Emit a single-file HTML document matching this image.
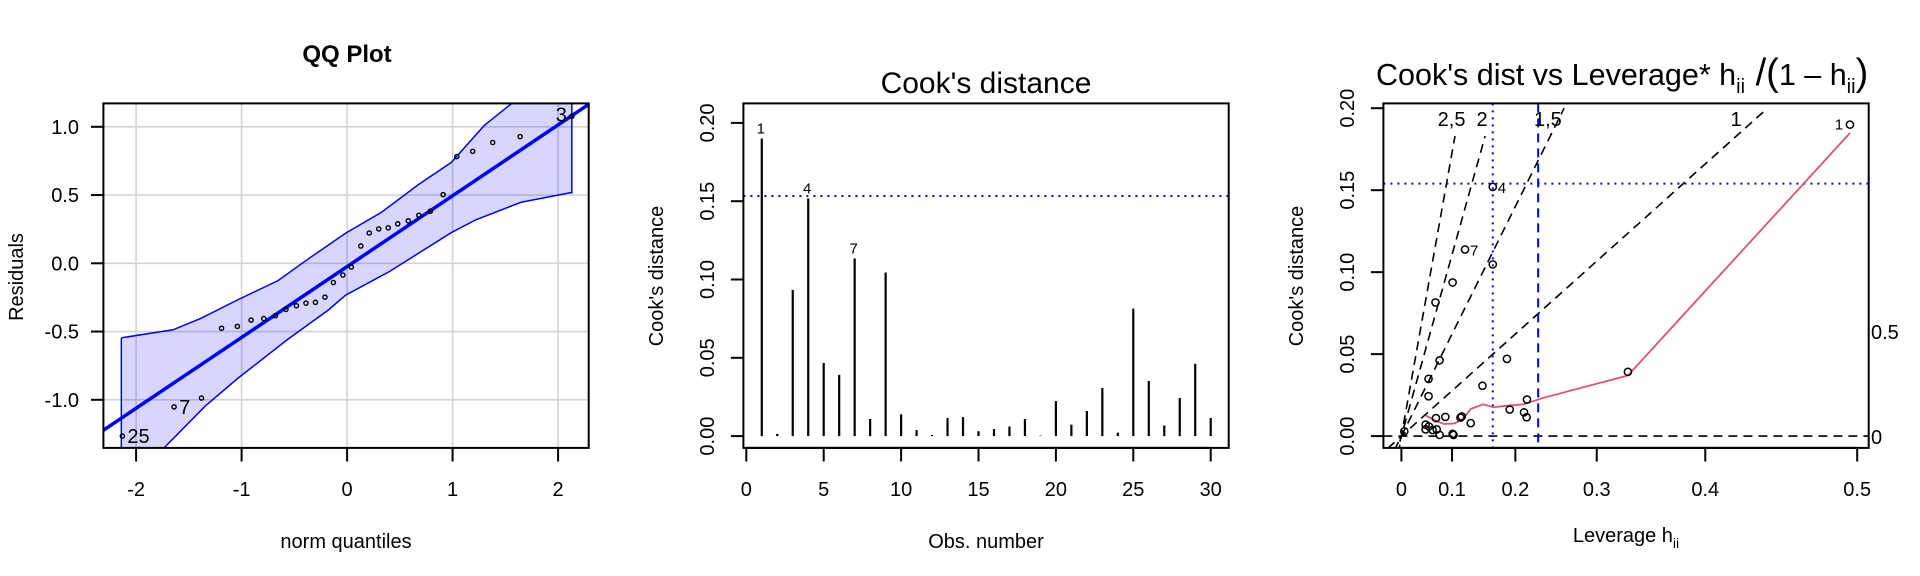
<!DOCTYPE html>
<html><head><meta charset="utf-8"><style>
html,body{margin:0;padding:0;background:#fff}
svg{display:block}
text{font-family:"Liberation Sans",Arial,sans-serif;fill:#000}
</style></head><body>
<svg id="chart" width="1920" height="576" viewBox="0 0 1920 576" xmlns="http://www.w3.org/2000/svg"></svg>
<script>
// ---------- QQ plot data ----------
const qqQuantiles = [-2.13,-1.64,-1.38,-1.19,-1.04,-0.91,-0.79,-0.68,-0.58,-0.48,-0.39,-0.30,-0.21,-0.13,-0.04,0.04,0.13,0.21,0.30,0.39,0.48,0.58,0.68,0.79,0.91,1.04,1.19,1.38,1.64,2.13];
const qqResiduals = [-1.266,-1.052,-0.987,-0.476,-0.462,-0.416,-0.405,-0.384,-0.338,-0.311,-0.292,-0.286,-0.248,-0.141,-0.086,-0.027,0.127,0.222,0.252,0.260,0.289,0.311,0.352,0.382,0.503,0.782,0.820,0.885,0.928,1.077];
const qqLabels = {0:"25",1:"7",29:"3"};
const qqLineIntercept = -0.024, qqLineSlope = 0.519;
const bandUpperX = [-2.14,-1.65,-1.385,-1.038,-0.655,-0.387,-0.017,0.326,0.677,0.988,1.299,1.551,2.13];
const bandUpperY = [-0.546,-0.487,-0.403,-0.268,-0.127,0.022,0.219,0.374,0.577,0.739,1.009,1.166,1.6];
const bandLowerX = [-2.14,-1.735,-1.346,-1.038,-0.568,-0.179,-0.017,0.404,0.988,1.221,1.649,2.115,2.13];
const bandLowerY = [-1.75,-1.352,-1.047,-0.844,-0.560,-0.343,-0.235,-0.059,0.225,0.319,0.447,0.517,0.517];
const qqXTicks = [-2,-1,0,1,2];
const qqYTicks = [-1.0,-0.5,0.0,0.5,1.0];
const qqYTickLabels = ["-1.0","-0.5","0.0","0.5","1.0"];

// ---------- Cook's distance data ----------
const cookObs = [1,2,3,4,5,6,7,8,9,10,11,12,13,14,15,16,17,18,19,20,21,22,23,24,25,26,27,28,29,30];
const cookValues = [0.190,0.0014,0.0934,0.1517,0.0467,0.0391,0.1134,0.0109,0.1045,0.0139,0.0038,0.0007,0.0116,0.0121,0.0031,0.0045,0.0061,0.0109,0.0003,0.0224,0.0073,0.0160,0.0307,0.0022,0.0814,0.0352,0.0068,0.0243,0.0462,0.0116];
const cookThreshold = 0.1533;
const cookXTicks = [0,5,10,15,20,25,30];
const cookYTicks = [0,0.05,0.10,0.15,0.20];
const cookYTickLabels = ["0.00","0.05","0.10","0.15","0.20"];
const cookLabelled = [1,4,7];

// ---------- Leverage plot data ----------
const levH = [0.496,0.167,0.1225,0.167,0.101,0.0696,0.0773,0.188,0.0562,0.0562,0.151,0.332,0.216,0.192,0.212,0.2155,0.132,0.1148,0.117,0.0879,0.0704,0.0504,0.0569,0.0504,0.0641,0.0719,0.0773,0.101,0.1026,0.0063];
const levCook = [0.190,0.152,0.1138,0.1047,0.0937,0.0815,0.0462,0.0471,0.0349,0.0243,0.0307,0.0392,0.0223,0.0162,0.0145,0.0115,0.0079,0.0113,0.0120,0.0117,0.0110,0.0070,0.0059,0.0041,0.0037,0.0041,0.0007,0.0014,0.0007,0.0029];
const levLabels = {0:"1",1:"4",2:"7"};
const smoothH = [0.0504,0.0704,0.0857,0.1042,0.1184,0.132,0.152,0.1678,0.192,0.212,0.2365,0.332,0.496];
const smoothCook = [0.0126,0.0093,0.0074,0.0077,0.0104,0.0165,0.0194,0.0176,0.0187,0.0194,0.0232,0.0370,0.1849];
const contourLevels = [2.5,2,1.5,1];
const contourLabels = ["2,5","2","1,5","1"];
const contourScale = 0.249;
const levVLineDotted = 0.167, levVLineDashed = 0.2308, levHLine = 0.154;
const levXTicks = [0,0.1,0.2,0.3,0.4,0.5];
const levXTickLabels = ["0","0.1","0.2","0.3","0.4","0.5"];
const levYTicks = [0,0.05,0.10,0.15,0.20];
const levYTickLabels = ["0.00","0.05","0.10","0.15","0.20"];

const NS = "http://www.w3.org/2000/svg";
const svg = document.getElementById('chart');
function mk(tag, attrs, parent){ const e=document.createElementNS(NS,tag); for(const k in attrs) e.setAttribute(k,attrs[k]); (parent||svg).appendChild(e); return e; }
function txt(s, attrs, parent){ const e=mk('text',attrs,parent); e.textContent=s; return e; }
const BT=103.4, BB=447.9;

// ================= QQ panel =================
{
const g = mk('g',{});


const L=103.4,R=588.7;
const X = v=>347.1+v*105.5, Y = v=>263.3-v*136.5;
const cp = mk('clipPath',{id:'qqclip'},g); mk('rect',{x:L,y:BT,width:R-L,height:BB-BT},cp);
const grid = mk('g',{'clip-path':'url(#qqclip)'},g);


qqXTicks.forEach(t=>mk('line',{x1:X(t),x2:X(t),y1:BT,y2:BB,stroke:'#d3d3d3','stroke-width':1.6},grid));
qqYTicks.forEach(t=>mk('line',{x1:L,x2:R,y1:Y(t),y2:Y(t),stroke:'#d3d3d3','stroke-width':1.6},grid));
const c = mk('g',{'clip-path':'url(#qqclip)'},g);
let d='M'+bandUpperX.map((x,i)=>X(x)+','+Y(bandUpperY[i])).join(' L');
for(let i=bandLowerX.length-1;i>=0;i--) d+=' L'+X(bandLowerX[i])+','+Y(bandLowerY[i]);
d+='Z';
const band=mk('path',{d:d,fill:'rgba(0,0,255,0.16)',stroke:'none'},c);


const up=mk('polyline',{points:bandUpperX.map((x,i)=>X(x)+','+Y(bandUpperY[i])).join(' '),fill:'none',stroke:'#0000ff','stroke-width':1.5},c);


const lo=mk('polyline',{points:[[bandUpperX[0],bandUpperY[0]]].concat(bandLowerX.map((x,i)=>[x,bandLowerY[i]])).concat([[2.13,1.6]]).map(p=>X(p[0])+','+Y(p[1])).join(' '),fill:'none',stroke:'#0000ff','stroke-width':1.5},c);


const rl=mk('line',{x1:X(-2.5),y1:Y(qqLineIntercept+qqLineSlope*-2.5),x2:X(2.5),y2:Y(qqLineIntercept+qqLineSlope*2.5),stroke:'#0000ff','stroke-width':3.5},c);


qqQuantiles.forEach((q,i)=>{
  const p=mk('circle',{cx:X(q),cy:Y(qqResiduals[i]),r:2.1,fill:'none',stroke:'#000','stroke-width':1.4},g);
  
  
  if(qqLabels[i]){ const left=(i==29);
    const t=txt(qqLabels[i],{x:X(q)+(left?-5:5),y:Y(qqResiduals[i])+(left?5:7),'font-size':20,'text-anchor':left?'end':'start'},g);
    
     }
});
mk('rect',{x:L,y:BT,width:R-L,height:BB-BT,fill:'none',stroke:'#000','stroke-width':2},g);
qqXTicks.forEach(t=>{ mk('line',{x1:X(t),x2:X(t),y1:BB,y2:461.5,stroke:'#000','stroke-width':2},g);
  const e=txt(String(t),{x:X(t),y:496,'font-size':20,'text-anchor':'middle'},g);
  
   });
qqYTicks.forEach((t,i)=>{ mk('line',{x1:L,x2:91,y1:Y(t),y2:Y(t),stroke:'#000','stroke-width':2},g);
  const e=txt(qqYTickLabels[i],{x:79,y:Y(t)+7,'font-size':20,'text-anchor':'end'},g);
  
   });
const ti=txt('QQ Plot',{x:347,y:62,'font-size':24,'font-weight':'bold','text-anchor':'middle'},g);


const xl=txt('norm quantiles',{x:346,y:548,'font-size':20,'text-anchor':'middle'},g);


const yl=txt('Residuals',{x:0,y:0,'font-size':20,'text-anchor':'middle',transform:'translate(23,277) rotate(-90)'},g);


}

// ================= Cook's distance panel =================
{
const g = mk('g',{});


const L=743.4,R=1228.7;
const X = v=>746.3+v*15.48, Y = v=>436.1-v*1566;
cookObs.forEach((o,i)=>{
  const b=mk('line',{x1:X(o),x2:X(o),y1:Y(0),y2:Y(cookValues[i]),stroke:'#000','stroke-width':2.2},g);
  
  
  if(cookLabelled.includes(o)){ const t=txt(String(o),{x:X(o)-1,y:Y(cookValues[i])-5,'font-size':15,'text-anchor':'middle','font-family':'Liberation Serif, serif'},g);
    
     }
});
const th=mk('line',{x1:L,x2:R,y1:Y(cookThreshold),y2:Y(cookThreshold),stroke:'#0000ff','stroke-width':2,'stroke-dasharray':'2 5'},g);


mk('rect',{x:L,y:BT,width:R-L,height:BB-BT,fill:'none',stroke:'#000','stroke-width':2},g);
mk('line',{x1:X(0),x2:X(30),y1:BB,y2:BB,stroke:'#000','stroke-width':2},g);
cookXTicks.forEach(t=>{ mk('line',{x1:X(t),x2:X(t),y1:BB,y2:461.5,stroke:'#000','stroke-width':2},g);
  const e=txt(String(t),{x:X(t),y:496,'font-size':20,'text-anchor':'middle'},g);
  
   });
cookYTicks.forEach((t,i)=>{ mk('line',{x1:L,x2:L-12.5,y1:Y(t),y2:Y(t),stroke:'#000','stroke-width':2},g);
  const e=txt(cookYTickLabels[i],{x:0,y:0,'font-size':20,'text-anchor':'middle',transform:`translate(714,${Y(t)}) rotate(-90)`},g);
  
   });
const ti=txt("Cook's distance",{x:986,y:93,'font-size':30,'text-anchor':'middle'},g);


const xl=txt('Obs. number',{x:986,y:548,'font-size':20,'text-anchor':'middle'},g);


const yl=txt("Cook's distance",{x:0,y:0,'font-size':20,'text-anchor':'middle',transform:'translate(663,276) rotate(-90)'},g);


}

// ================= Leverage panel =================
{
const g = mk('g',{});


const L=1383.4,R=1868.7;
const T = h=>h/(1-h);
const XT = t=>1401.4+t*455.8;
const X = h=>XT(T(h)), Y = v=>436.1-v*1639.5;
const cp = mk('clipPath',{id:'levclip'},g); mk('rect',{x:L,y:BT,width:R-L,height:BB-BT},cp);
const c = mk('g',{'clip-path':'url(#levclip)'},g);
contourLevels.forEach((k,i)=>{
  const s=contourScale*k*k;
  const top = k>=2 ? 0.183 : 0.2;
  const l=mk('line',{x1:XT(-0.03),y1:Y(-0.03*s),x2:XT(top/s),y2:Y(top),stroke:'#000','stroke-width':1.6,'stroke-dasharray':'9 6'},c);
  
  
});
const z=mk('line',{x1:L,x2:R,y1:Y(0),y2:Y(0),stroke:'#000','stroke-width':1.6,'stroke-dasharray':'9 6'},c);


const v1=mk('line',{x1:X(levVLineDotted),x2:X(levVLineDotted),y1:BT,y2:BB,stroke:'#0000ff','stroke-width':2,'stroke-dasharray':'2 5'},c);


const v2=mk('line',{x1:X(levVLineDashed),x2:X(levVLineDashed),y1:BT,y2:BB,stroke:'#0000ff','stroke-width':2,'stroke-dasharray':'9 6'},c);


const h1=mk('line',{x1:L,x2:R,y1:Y(levHLine),y2:Y(levHLine),stroke:'#0000ff','stroke-width':2,'stroke-dasharray':'2 5'},c);


const sm=mk('polyline',{points:smoothH.map((h,i)=>X(h)+','+Y(smoothCook[i])).join(' '),fill:'none',stroke:'#DF536B','stroke-width':1.8},c);


levH.forEach((h,i)=>{
  const p=mk('circle',{cx:X(h),cy:Y(levCook[i]),r:3.6,fill:'none',stroke:'#000','stroke-width':1.5},g);
  
  
  if(levLabels[i]){ const t=txt(levLabels[i],{x:X(h)+(i==0?-11:5),y:Y(levCook[i])+(i==0?5:6),'font-size':15,'text-anchor':i==0?'middle':'start'},g);
    
     }
});
contourLevels.forEach((k,i)=>{
  const s=contourScale*k*k;
  const t=txt(contourLabels[i],{x:XT(0.185/s)-4,y:126,'font-size':20,'text-anchor':'middle'},g);
  
  
});
const r1=txt('0.5',{x:1871,y:339,'font-size':20},g);


const r0=txt('0',{x:1871,y:444,'font-size':20},g);


mk('rect',{x:L,y:BT,width:R-L,height:BB-BT,fill:'none',stroke:'#000','stroke-width':2},g);
mk('line',{x1:X(0),x2:X(0.5),y1:BB,y2:BB,stroke:'#000','stroke-width':2},g);
levXTicks.forEach((t,i)=>{ mk('line',{x1:X(t),x2:X(t),y1:BB,y2:461.5,stroke:'#000','stroke-width':2},g);
  const e=txt(levXTickLabels[i],{x:X(t),y:496,'font-size':20,'text-anchor':'middle'},g);
  
   });
levYTicks.forEach((t,i)=>{ mk('line',{x1:L,x2:L-12.5,y1:Y(t),y2:Y(t),stroke:'#000','stroke-width':2},g);
  const e=txt(levYTickLabels[i],{x:0,y:0,'font-size':20,'text-anchor':'middle',transform:`translate(1354,${Y(t)}) rotate(-90)`},g);
  
   });
const ti=mk('text',{x:1376,y:85,'font-size':30.5},g);


ti.innerHTML='Cook\'s dist vs Leverage* h<tspan font-size="20" dy="8">ii</tspan><tspan dy="-8" font-size="38"> /</tspan><tspan font-size="38">(</tspan><tspan>1 – h</tspan><tspan font-size="20" dy="8">ii</tspan><tspan dy="-8" font-size="38">)</tspan>';
const xl=mk('text',{x:1626,y:542,'font-size':20,'text-anchor':'middle'},g);


xl.innerHTML='Leverage  h<tspan font-size="14" dy="6">ii</tspan>';
const yl=txt("Cook's distance",{x:0,y:0,'font-size':20,'text-anchor':'middle',transform:'translate(1303,276) rotate(-90)'},g);


}
</script>
</body></html>
